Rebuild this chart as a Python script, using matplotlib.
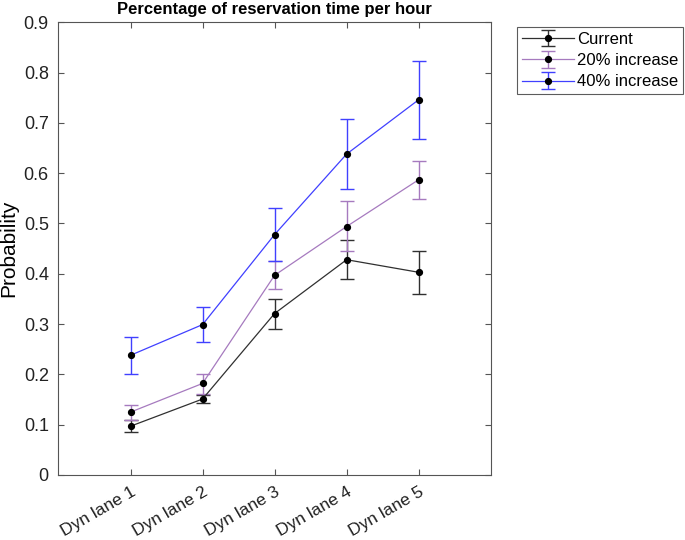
import numpy as np
import matplotlib
matplotlib.use('Agg')
import matplotlib.pyplot as plt

plt.rcParams['font.family'] = ['Liberation Sans', 'DejaVu Sans']

# ===================== datos =====================
lanes = ["Dyn lane 1", "Dyn lane 2", "Dyn lane 3", "Dyn lane 4", "Dyn lane 5"]

current = [0.097, 0.151, 0.321, 0.428, 0.403]
current_lo = [0.085, 0.143, 0.291, 0.389, 0.359]
current_hi = [0.109, 0.160, 0.350, 0.467, 0.446]

inc20 = [0.125, 0.182, 0.397, 0.494, 0.587]
inc20_lo = [0.110, 0.162, 0.369, 0.445, 0.549]
inc20_hi = [0.140, 0.201, 0.425, 0.544, 0.625]

inc40 = [0.238, 0.299, 0.478, 0.638, 0.746]
inc40_lo = [0.201, 0.264, 0.425, 0.568, 0.668]
inc40_hi = [0.275, 0.333, 0.530, 0.708, 0.824]

series = [
    ("Current", current, current_lo, current_hi, '#303030'),
    ("20% increase", inc20, inc20_lo, inc20_hi, '#a67abf'),
    ("40% increase", inc40, inc40_lo, inc40_hi, '#4040ff'),
]

# ===================== plot =====================
fig = plt.figure(figsize=(6.85, 5.4), dpi=100)
ax = fig.add_axes([0.0854, 0.1204, 0.6309, 0.8383])

x = np.arange(1, len(lanes) + 1)
for name, val, lo, hi, col in series:
    val = np.array(val)
    err = [val - np.array(lo), np.array(hi) - val]
    ax.errorbar(x, val, yerr=err, color=col, ecolor=col, linewidth=0.9,
                elinewidth=1.0, capsize=5, capthick=1.0, marker='o',
                markersize=4.2, markerfacecolor='k', markeredgecolor='k',
                label=name)

ax.set_xlim(0, 6)
ax.set_ylim(0, 0.9)
ax.set_xticks(x)
ax.set_xticklabels(lanes, rotation=30, ha='right', rotation_mode='anchor', fontsize=12.5)
ax.set_yticks(np.arange(0, 0.91, 0.1))
ax.set_yticklabels(['0'] + ['%.1f' % v for v in np.arange(0.1, 0.91, 0.1)], fontsize=13)
ax.tick_params(direction='in', top=True, right=True, length=4, color='#555555',
               colors='#222222', pad=7)
for s in ax.spines.values():
    s.set_color('#555555')
    s.set_linewidth(0.8)

ax.set_ylabel('Probability', fontsize=15, labelpad=4)
ax.set_title('Percentage of reservation time per hour', fontsize=12, fontweight='bold', pad=6)

leg = ax.legend(loc='upper left', bbox_to_anchor=(1.061, 0.99), fontsize=12,
                frameon=True, fancybox=False, edgecolor='#333333', handlelength=3.1,
                borderpad=0.3, labelspacing=0.38, handletextpad=0.2, borderaxespad=0)
leg.get_frame().set_linewidth(0.8)

plt.savefig('out.png', dpi=100)
